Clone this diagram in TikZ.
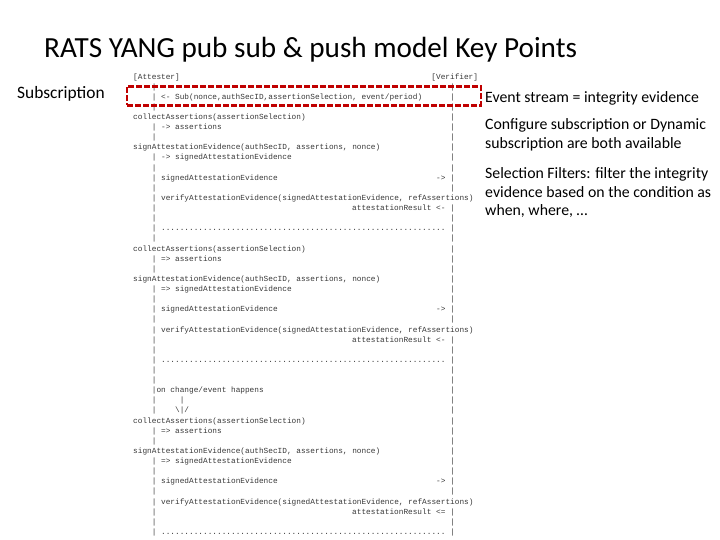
\documentclass[tikz,border=0pt]{standalone}
\usepackage{fontspec}
\setmainfont{Carlito}
\newfontfamily\monof{Liberation Mono}
\definecolor{boxred}{RGB}{192,0,0}
\definecolor{monogray}{RGB}{55,55,55}
\newcommand\mrow[4]{\node[mt] (#1) at ({133+4.66*(#2)},{119.5+10.12*(#3)}) {#4};}
\begin{document}
\begin{tikzpicture}[x=1pt,y=-1pt,
  mt/.style={font=\monof\fontsize{7.77}{8}\selectfont, text=monogray, anchor=base west, inner sep=0pt},
  title/.style={font=\fontsize{29.2}{31}\selectfont, anchor=base west, inner sep=0pt},
  side/.style={font=\fontsize{17.4}{19}\selectfont, anchor=base west, inner sep=0pt},
  note/.style={font=\fontsize{15.8}{17}\selectfont, anchor=base west, inner sep=0pt},
  redbox/.style={draw=boxred, line width=2.6pt, dash pattern=on 6pt off 2pt, inner sep=0pt}]
\useasboundingbox (0,0) rectangle (720,540);

\node[title] (title) at (44,58) {RATS YANG pub sub \& push model Key Points};
\node[side] (subscr) at (17,99) {Subscription};

\node[note] (n1) at (485,103) {Event stream = integrity evidence};
\node[note] (n2) at (485,129.5) {Configure subscription or Dynamic};
\node[note] (n3) at (485,148.3) {subscription are both available};
\node[note] (n4) at (485,178.7) {Selection Filters: filter the integrity};
\node[note] (n5) at (485,197.3) {evidence based on the condition as};
\node[note] (n6) at (485,215.7) {when, where, …};

% header
\mrow{att}{0}{-4}{[Attester]}
\mrow{ver}{64}{-4}{[Verifier]}

% lifelines
\foreach \r in {-3,-2,-1,1,2,4,5,6,7,8,9,10,11,12,14,15,17,18,19,20,21,22,23,24,25,26,27,28,29,31,32,34,35,36,37,38,39,40,41}
  \node[mt] (L\r) at ({133+4.66*4},{119.5+10.12*(\r)}) {|};
\foreach \r in {-3,-2,-1,0,1,2,3,4,5,6,7,9,10,11,12,13,14,15,16,17,18,19,20,22,23,24,25,26,27,28,29,30,31,32,33,34,35,36,37,39,40,41}
  \node[mt] (R\r) at ({133+4.66*68},{119.5+10.12*(\r)}) {|};

% subscription request
\mrow{subarrow}{6}{-2}{<-}
\mrow{sub}{9}{-2}{Sub(nonce,authSecID,assertionSelection, event/period)}
\node[redbox, minimum width=354pt, minimum height=19pt] (subbox) at (304,96) {};

% block 1
\mrow{c1}{0}{0}{collectAssertions(assertionSelection)}
\mrow{a1}{6}{1}{-> assertions}
\mrow{s1}{0}{3}{signAttestationEvidence(authSecID, assertions, nonce)}
\mrow{e1}{6}{4}{-> signedAttestationEvidence}
\mrow{g1}{6}{6}{signedAttestationEvidence}
\mrow{ga1}{65}{6}{->}
\mrow{v1}{6}{8}{verifyAttestationEvidence(signedAttestationEvidence, refAssertions)}
\mrow{r1}{47}{9}{attestationResult <-}
\mrow{d1}{6}{11}{.............................................................}

% block 2
\mrow{c2}{0}{13}{collectAssertions(assertionSelection)}
\mrow{a2}{6}{14}{=> assertions}
\mrow{s2}{0}{16}{signAttestationEvidence(authSecID, assertions, nonce)}
\mrow{e2}{6}{17}{=> signedAttestationEvidence}
\mrow{g2}{6}{19}{signedAttestationEvidence}
\mrow{ga2}{65}{19}{->}
\mrow{v2}{6}{21}{verifyAttestationEvidence(signedAttestationEvidence, refAssertions)}
\mrow{r2}{47}{22}{attestationResult <-}
\mrow{d2}{6}{24}{.............................................................}

% event
\mrow{ev}{5}{27}{on change/event happens}
\mrow{evp}{10}{28}{|}
\mrow{eva}{9}{29}{\textbackslash|/}

% block 3
\mrow{c3}{0}{30}{collectAssertions(assertionSelection)}
\mrow{a3}{6}{31}{=> assertions}
\mrow{s3}{0}{33}{signAttestationEvidence(authSecID, assertions, nonce)}
\mrow{e3}{6}{34}{=> signedAttestationEvidence}
\mrow{g3}{6}{36}{signedAttestationEvidence}
\mrow{ga3}{65}{36}{->}
\mrow{v3}{6}{38}{verifyAttestationEvidence(signedAttestationEvidence, refAssertions)}
\mrow{r3}{47}{39}{attestationResult <=}
\mrow{d3}{6}{41}{.............................................................}
\end{tikzpicture}
\end{document}
